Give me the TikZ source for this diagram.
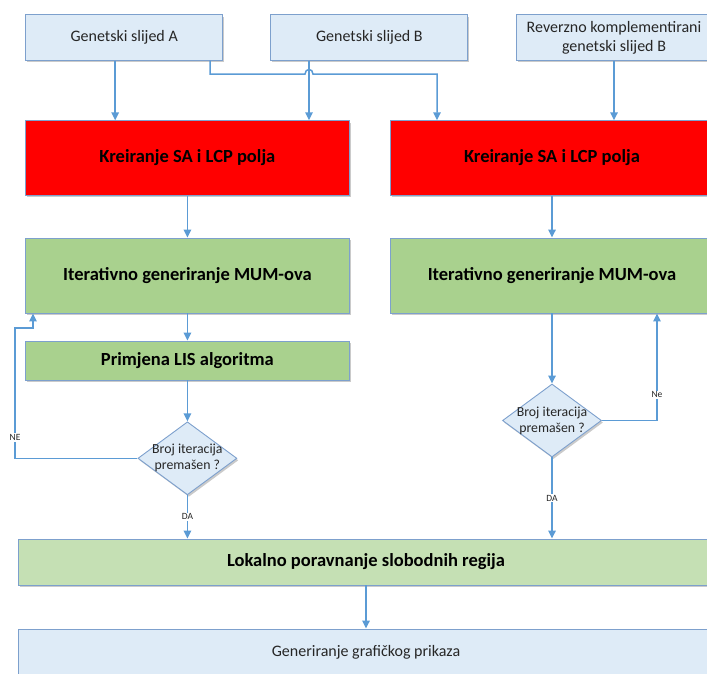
\documentclass[tikz,border=0pt]{standalone}
\usepackage{fontspec}
\setmainfont{Carlito}
\usetikzlibrary{shapes.geometric,arrows.meta,shadows}

\definecolor{seqfill}{RGB}{222,235,247}
\definecolor{boxline}{RGB}{125,160,205}
\definecolor{kreifill}{RGB}{255,0,0}
\definecolor{mumfill}{RGB}{169,209,142}
\definecolor{lokfill}{RGB}{197,224,180}
\definecolor{arrline}{RGB}{91,155,213}
\definecolor{txt}{RGB}{38,38,38}

\tikzset{
  flowbox/.style={draw=boxline, line width=0.9pt, inner sep=2pt, align=center,
    drop shadow={shadow xshift=1.5pt, shadow yshift=-2pt, opacity=0.35, fill=black!60}},
  seqbox/.style={flowbox, fill=seqfill, text=txt, font=\fontsize{16}{19}\selectfont},
  kreibox/.style={flowbox, fill=kreifill, font=\bfseries\fontsize{18.5}{22}\selectfont},
  mumbox/.style={flowbox, fill=mumfill, font=\bfseries\fontsize{18.5}{22}\selectfont},
  lokbox/.style={flowbox, fill=lokfill, font=\bfseries\fontsize{18.5}{22}\selectfont},
  decbox/.style={flowbox, diamond, fill=seqfill, text=txt, aspect=1.36, inner sep=-4pt,
    minimum width=99pt, minimum height=73pt, font=\fontsize{13.8}{16}\selectfont},
  arr/.style={draw=arrline, line width=1.5pt, -{Triangle[length=8pt,width=7.5pt]}},
  lbl/.style={fill=white, inner sep=1pt, font=\fontsize{9.5}{10}\selectfont, text=txt}
}

\begin{document}
\begin{tikzpicture}[x=1pt, y=-1pt]
    \path[use as bounding box] (0,0) rectangle (707,673);
    \clip (0,0) rectangle (707,673);

    \node[seqbox, minimum width=197pt, minimum height=45.3pt] (seqA) at (124.2,37.4) {Genetski slijed A};
    \node[seqbox, minimum width=197pt, minimum height=45.3pt] (seqB) at (369.4,37.4) {Genetski slijed B};
    \node[seqbox, minimum width=196pt, minimum height=45.3pt] (seqBrc) at (614,37.4) {Reverzno komplementirani\\genetski slijed B};

    \node[kreibox, minimum width=323.3pt, minimum height=74.3pt] (kreiA) at (187.4,157.9) {Kreiranje SA i LCP polja};
    \node[kreibox, minimum width=324pt, minimum height=74.3pt] (kreiB) at (552,157.9) {Kreiranje SA i LCP polja};

    \node[mumbox, minimum width=323.3pt, minimum height=75pt] (mumA) at (187.4,275.5) {Iterativno generiranje MUM-ova};
    \node[mumbox, minimum width=324pt, minimum height=75pt] (mumB) at (552,275.5) {Iterativno generiranje MUM-ova};
    \node[mumbox, minimum width=323.3pt, minimum height=39pt] (lis) at (187.4,360.5) {Primjena LIS algoritma};

    \node[decbox] (decA) at (187.4,458.3) {Broj iteracija\\premašen ?};
    \node[decbox] (decB) at (552,420.5) {Broj iteracija\\premašen ?};

    \node[lokbox, minimum width=696pt, minimum height=46pt] (lok) at (366,562) {Lokalno poravnanje slobodnih regija};
    \node[seqbox, minimum width=696pt, minimum height=46pt] (prikaz) at (366,652) {Generiranje grafičkog prikaza};

    \coordinate (hop) at (309,74);
    \coordinate (neA) at (15,328);

    \draw[arr] ([xshift=-9pt]seqA.south) -- ([xshift=-9pt]seqA.south |- kreiA.north);
    \draw[arr] ([xshift=-60.4pt]seqB.south) -- ([xshift=-60.4pt]seqB.south |- kreiA.north);
    \draw[arr] ([xshift=86pt]seqA.south) |- ([xshift=-4pt]hop) .. controls +(0,-6) and +(0,-6) .. ([xshift=4pt]hop) -| ([xshift=-115pt]kreiB.north);
    \draw[arr] (seqBrc.south) -- (seqBrc.south |- kreiB.north);

    \draw[arr] (kreiA) -- (mumA);
    \draw[arr] (kreiB) -- (mumB);
    \draw[arr] (mumA) -- (lis);
    \draw[arr] (lis) -- (decA);
    \draw[arr] (mumB) -- (decB);

    \draw[arr] (decA.west) -| node[lbl, pos=0.58] {NE} (neA) -| ([xshift=-154.4pt]mumA.south);
    \draw[arr] (decB.east) -| node[lbl, pos=0.62] {Ne} ([xshift=105pt]mumB.south);
    \draw[arr] (decA.south) -- node[lbl] {DA} (decA.south |- lok.north);
    \draw[arr] (decB.south) -- node[lbl] {DA} (decB.south |- lok.north);

    \draw[arr] (lok) -- (prikaz);
\end{tikzpicture}
\end{document}
